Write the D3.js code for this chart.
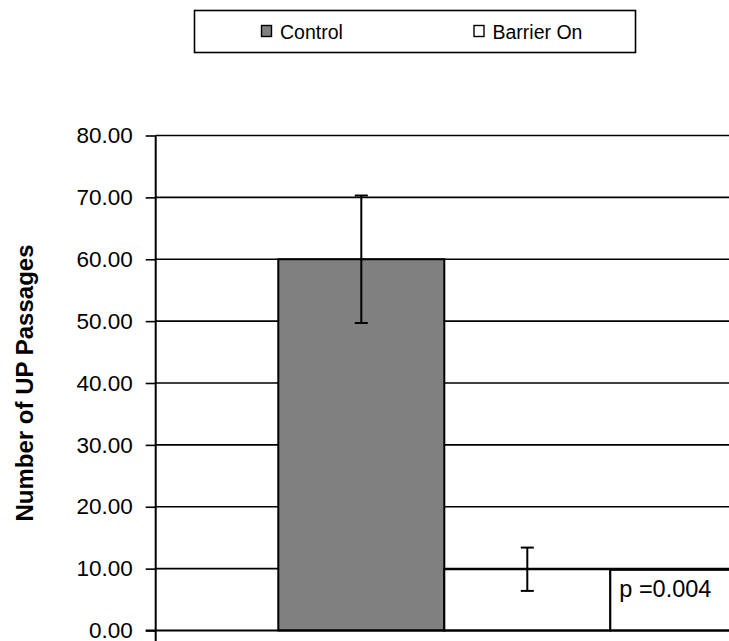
<!DOCTYPE html>
<html>
<head>
<meta charset="utf-8">
<script src="https://cdn.jsdelivr.net/npm/d3@7/dist/d3.min.js"></script>
<style>
  html, body { margin: 0; padding: 0; background: #fff; }
  svg { display: block; font-family: Arial, "Liberation Sans", sans-serif; }
</style>
</head>
<body>
<svg id="chart" width="729" height="641"></svg>
<script>
// Mean number of UP passages per condition, with error bar half-widths
const series = ["Control", "Barrier On"];
const means = [60.0, 9.9];
const errors = [10.3, 3.5];
const fills = ["#808080", "#ffffff"];
const yTicks = [0, 10, 20, 30, 40, 50, 60, 70, 80];
const yTitle = "Number of UP Passages";
const pLabel = "p =0.004";

const W = 729, H = 641;
const svg = d3.select("#chart");

// Plot area (the right edge runs past the page width)
const plot = { left: 155.7, right: 737, top: 135.5, bottom: 630.5 };
const groupLeft = 278.3, groupRight = 610.3;

const y = d3.scaleLinear().domain([0, 80]).range([plot.bottom, plot.top]);
const x = d3.scaleBand().domain(series).range([groupLeft, groupRight]).padding(0);

// Horizontal gridlines
svg.append("g")
  .selectAll("line")
  .data(yTicks.filter(d => d > 0))
  .join("line")
  .attr("x1", plot.left).attr("x2", W)
  .attr("y1", d => y(d)).attr("y2", d => y(d))
  .attr("stroke", "#000").attr("stroke-width", 1.6);

// Y axis with outward ticks and two-decimal labels
const yAxis = d3.axisLeft(y)
  .tickValues(yTicks)
  .tickFormat(d3.format(".2f"))
  .tickSize(10)
  .tickPadding(13);

const ax = svg.append("g")
  .attr("transform", `translate(${plot.left},0)`)
  .call(yAxis);
ax.select(".domain").remove();
ax.selectAll(".tick line").attr("stroke", "#000").attr("stroke-width", 1.6);
ax.selectAll(".tick text")
  .attr("fill", "#000")
  .style("font-size", "22.5px")
  .style("font-family", "Arial, 'Liberation Sans', sans-serif");

// Bars
svg.append("g")
  .selectAll("rect")
  .data(series)
  .join("rect")
  .attr("x", d => x(d))
  .attr("width", x.bandwidth())
  .attr("y", (d, i) => y(means[i]))
  .attr("height", (d, i) => y(0) - y(means[i]))
  .attr("fill", (d, i) => fills[i])
  .attr("stroke", "#000")
  .attr("stroke-width", 2);

// Annotation box holding the p value
const pBox = svg.append("g");
pBox.append("rect")
  .attr("x", groupRight)
  .attr("y", y(9.8))
  .attr("width", W - groupRight + 10)
  .attr("height", y(0) - y(9.8))
  .attr("fill", "#fff")
  .attr("stroke", "#000")
  .attr("stroke-width", 2);
pBox.append("text")
  .attr("x", groupRight + 9)
  .attr("y", y(9.8) + 27)
  .style("font-size", "23.5px")
  .attr("fill", "#000")
  .text(pLabel);

// Error bars
const eb = svg.append("g").attr("stroke", "#000").attr("stroke-width", 2);
series.forEach((s, i) => {
  const cx = x(s) + x.bandwidth() / 2;
  const top = y(means[i] + errors[i]);
  const bot = y(means[i] - errors[i]);
  eb.append("line").attr("x1", cx).attr("x2", cx).attr("y1", top).attr("y2", bot);
  eb.append("line").attr("x1", cx - 6.5).attr("x2", cx + 6.5).attr("y1", top).attr("y2", top);
  eb.append("line").attr("x1", cx - 6.5).attr("x2", cx + 6.5).attr("y1", bot).attr("y2", bot);
});

// Axis lines
svg.append("line")
  .attr("x1", plot.left).attr("x2", plot.left)
  .attr("y1", plot.top).attr("y2", H)
  .attr("stroke", "#000").attr("stroke-width", 2);
svg.append("line")
  .attr("x1", plot.left - 10).attr("x2", W)
  .attr("y1", y(0)).attr("y2", y(0))
  .attr("stroke", "#000").attr("stroke-width", 2.2);

// Y axis title
svg.append("text")
  .attr("transform", `translate(33,${(plot.top + plot.bottom) / 2}) rotate(-90)`)
  .attr("text-anchor", "middle")
  .style("font-size", "24px")
  .style("font-weight", "bold")
  .attr("fill", "#000")
  .text(yTitle);

// Legend
const legend = svg.append("g");
legend.append("rect")
  .attr("x", 194.5).attr("y", 10.5)
  .attr("width", 441).attr("height", 42)
  .attr("fill", "#fff")
  .attr("stroke", "#000").attr("stroke-width", 1.6);
const legendX = [261.5, 474];
series.forEach((s, i) => {
  legend.append("rect")
    .attr("x", legendX[i]).attr("y", 25.5)
    .attr("width", 10).attr("height", 11)
    .attr("fill", fills[i])
    .attr("stroke", "#000").attr("stroke-width", 1.4);
  legend.append("text")
    .attr("x", legendX[i] + 18.5).attr("y", 39)
    .style("font-size", "19.5px")
    .attr("fill", "#000")
    .text(s);
});
</script>
</body>
</html>
